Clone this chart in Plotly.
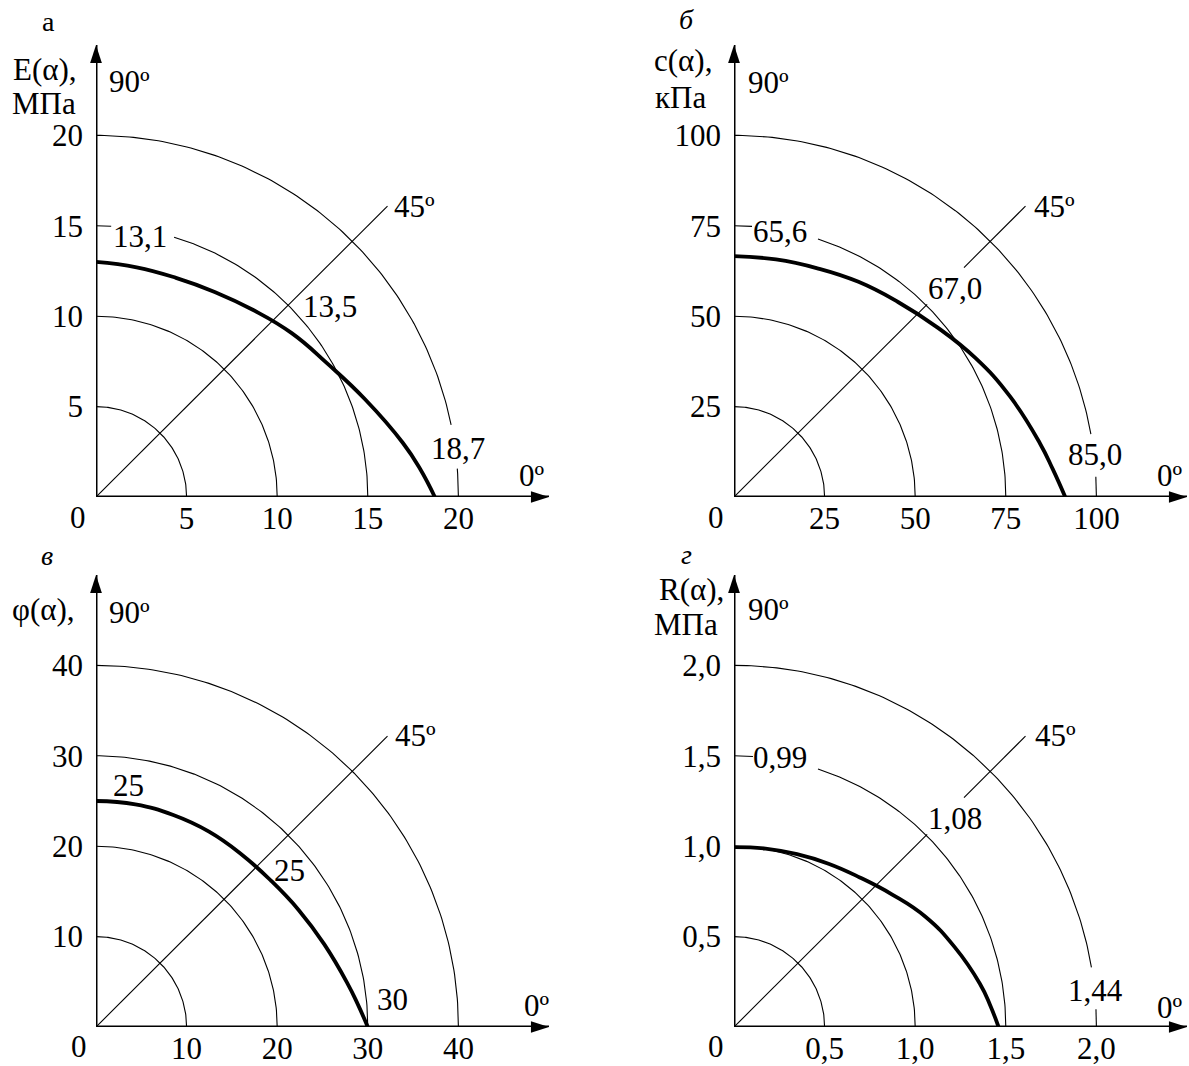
import numpy as np
import plotly.graph_objects as go

# values: direction angle (deg) and value in that direction
ang_E = [0, 5, 10, 20, 30, 40, 50, 60, 70, 80, 90]
val_E = [18.7, 17.95, 17.2, 15.8, 14.75, 14.1, 13.5, 13.1, 12.9, 12.9, 13.0]

ang_c = [0, 5, 10, 20, 30, 40, 50, 60, 70, 80, 90]
val_c = [91.4, 88.3, 85.7, 81.1, 76.9, 73.1, 70.4, 68.7, 67.3, 66.7, 66.6]

ang_phi = [0, 5, 10, 20, 30, 40, 50, 60, 70, 80, 90]
val_phi = [30.0, 29.0, 28.15, 26.8, 25.85, 25.2, 24.95, 24.95, 24.95, 25.0, 25.0]

ang_R = [0, 5, 10, 20, 30, 40, 50, 60, 70, 80, 90]
val_R = [1.46, 1.418, 1.378, 1.295, 1.22, 1.14, 1.08, 1.043, 1.017, 1.002, 0.995]

# circular grid and axis ticks
grid_E = [5, 10, 15, 20]
grid_c = [25, 50, 75, 100]
grid_phi = [10, 20, 30, 40]
grid_R = [0.5, 1.0, 1.5, 2.0]

ticks_E = ["5", "10", "15", "20"]
ticks_c = ["25", "50", "75", "100"]
ticks_phi = ["10", "20", "30", "40"]
ticks_R = ["0,5", "1,0", "1,5", "2,0"]

# values written on the chart (90°, 45°, 0°)
notes_E = ["13,1", "13,5", "18,7"]
notes_c = ["65,6", "67,0", "85,0"]
notes_phi = ["25", "25", "30"]
notes_R = ["0,99", "1,08", "1,44"]

W, H = 1189, 1066
SERIF = "Liberation Serif, Times New Roman, serif"
FS = 31
AX_W, AX_H = 453, 452


def paper(px, py):
    return px / W, 1 - py / H


def arc(r, a0, a1):
    t = np.radians(np.linspace(a0, a1, 120))
    return r * np.cos(t), r * np.sin(t)


panels = [
    dict(ang=ang_E, val=val_E, grid=grid_E, ticks=ticks_E, ox=96, oy=497, L=25,
         cut={2: [(0, 73.3), (86.8, 90)], 3: [(0, 4.5), (11.5, 90)]},
         ray=[(0, 0.91)],
         labels=[("а", 48, 21, "center", True), ("E(α),", 45, 70, "center", False),
                 ("МПа", 44, 104, "center", False), ("90º", 107, 81, "left", False),
                 ("45º", 392, 206, "left", False), ("0º", 532, 476, "center", False),
                 ("0", 78, 517, "center", False)],
         notes=list(zip(notes_E, [(140, 237), (330, 306), (458, 448)]))),
    dict(ang=ang_c, val=val_c, grid=grid_c, ticks=ticks_c, ox=734, oy=497, L=125,
         cut={2: [(0, 72), (86.2, 90)], 3: [(0, 3.2), (10, 90)]},
         ray=[(0, 0.603), (0.718, 0.91)],
         labels=[("<i>б</i>", 686, 20, "center", True), ("c(α),", 683, 61, "center", False),
                 ("кПа", 680, 97, "center", False), ("90º", 746, 83, "left", False),
                 ("45º", 1032, 206, "left", False), ("0º", 1170, 476, "center", False),
                 ("0", 716, 517, "center", False)],
         notes=list(zip(notes_c, [(780, 231), (955, 288), (1095, 455)]))),
    dict(ang=ang_phi, val=val_phi, grid=grid_phi, ticks=ticks_phi, ox=96, oy=1027, L=50,
         cut={},
         ray=[(0, 0.91)],
         labels=[("<i>в</i>", 47, 555, "center", True), ("φ(α),", 43, 609, "center", False),
                 ("90º", 107, 612, "left", False), ("45º", 393, 735, "left", False),
                 ("0º", 537, 1005, "center", False), ("0", 79, 1046, "center", False)],
         notes=list(zip(notes_phi, [(128, 785), (289, 870), (392, 999)]))),
    dict(ang=ang_R, val=val_R, grid=grid_R, ticks=ticks_R, ox=734, oy=1027, L=2.5,
         cut={2: [(0, 72), (86, 90)], 3: [(0, 2.8), (9.5, 90)]},
         ray=[(0, 0.603), (0.718, 0.91)],
         labels=[("<i>г</i>", 686, 554, "center", True), ("R(α),", 691, 589, "center", False),
                 ("МПа", 686, 624, "center", False), ("90º", 746, 609, "left", False),
                 ("45º", 1033, 735, "left", False), ("0º", 1170, 1007, "center", False),
                 ("0", 716, 1046, "center", False)],
         notes=list(zip(notes_R, [(780, 757), (955, 818), (1095, 990)]))),
]

fig = go.Figure()
layout = dict(width=W, height=H, margin=dict(l=0, r=0, t=0, b=0),
              paper_bgcolor="white", plot_bgcolor="white", showlegend=False)
shapes, annotations = [], []

for i, p in enumerate(panels):
    sfx = "" if i == 0 else str(i + 1)
    xa, ya = "x" + sfx, "y" + sfx
    L = p["L"]
    axis_common = dict(range=[0, L], showgrid=False, zeroline=False, showline=False,
                       ticks="", tickmode="array", tickvals=p["grid"], ticktext=p["ticks"],
                       tickfont=dict(family=SERIF, size=FS, color="black"), fixedrange=True)
    layout["xaxis" + sfx] = dict(axis_common, anchor=ya, ticklabelstandoff=0,
                                 domain=[p["ox"] / W, (p["ox"] + AX_W) / W])
    layout["yaxis" + sfx] = dict(axis_common, anchor=xa, ticklabelstandoff=12,
                                 domain=[1 - p["oy"] / H, 1 - (p["oy"] - AX_H) / H])

    # circular grid lines
    for k, r in enumerate(p["grid"]):
        for a0, a1 in p["cut"].get(k, [(0, 90)]):
            gx, gy = arc(r, a0, a1)
            fig.add_trace(go.Scatter(x=gx, y=gy, xaxis=xa, yaxis=ya, mode="lines",
                                     line=dict(color="black", width=1.1), hoverinfo="skip"))

    # 45° ray
    c45 = np.cos(np.radians(45))
    for f0, f1 in p["ray"]:
        fig.add_trace(go.Scatter(x=[f0 * L * c45, f1 * L * c45], y=[f0 * L * c45, f1 * L * c45],
                                 xaxis=xa, yaxis=ya, mode="lines",
                                 line=dict(color="black", width=1.1), hoverinfo="skip"))

    # the measured curve
    t = np.radians(p["ang"])
    v = np.array(p["val"])
    fig.add_trace(go.Scatter(x=v * np.cos(t), y=v * np.sin(t), xaxis=xa, yaxis=ya,
                             mode="lines", line=dict(color="black", width=3.8, shape="spline",
                                                     smoothing=1.3)))

    # axes with arrows
    shapes.append(dict(type="line", xref=xa, yref=ya, x0=0, y0=0, x1=L, y1=0,
                       line=dict(color="black", width=3)))
    shapes.append(dict(type="line", xref=xa, yref=ya, x0=0, y0=0, x1=0, y1=L,
                       line=dict(color="black", width=3)))
    fig.add_trace(go.Scatter(x=[0, L], y=[L, 0], xaxis=xa, yaxis=ya, mode="markers",
                             cliponaxis=False,
                             marker=dict(symbol="arrow", size=19, color="black", angle=[0, 90],
                                         line=dict(width=0)), hoverinfo="skip"))

    for text, px_, py_, anchor, small in p["labels"]:
        x, y = paper(px_, py_)
        annotations.append(dict(x=x, y=y, xref="paper", yref="paper", text=text,
                                showarrow=False, xanchor=anchor, yanchor="middle",
                                font=dict(family=SERIF, size=28 if small else FS,
                                          color="black")))
    for text, (px_, py_) in p["notes"]:
        x, y = paper(px_, py_)
        annotations.append(dict(x=x, y=y, xref="paper", yref="paper", text=text,
                                showarrow=False, xanchor="center", yanchor="middle",
                                font=dict(family=SERIF, size=FS, color="black")))

layout["shapes"] = shapes
layout["annotations"] = annotations
fig.update_layout(**layout)
fig.write_html("out.html", config={"displayModeBar": False},
               post_script="document.body.style.margin='0';document.body.style.overflow='hidden';")
